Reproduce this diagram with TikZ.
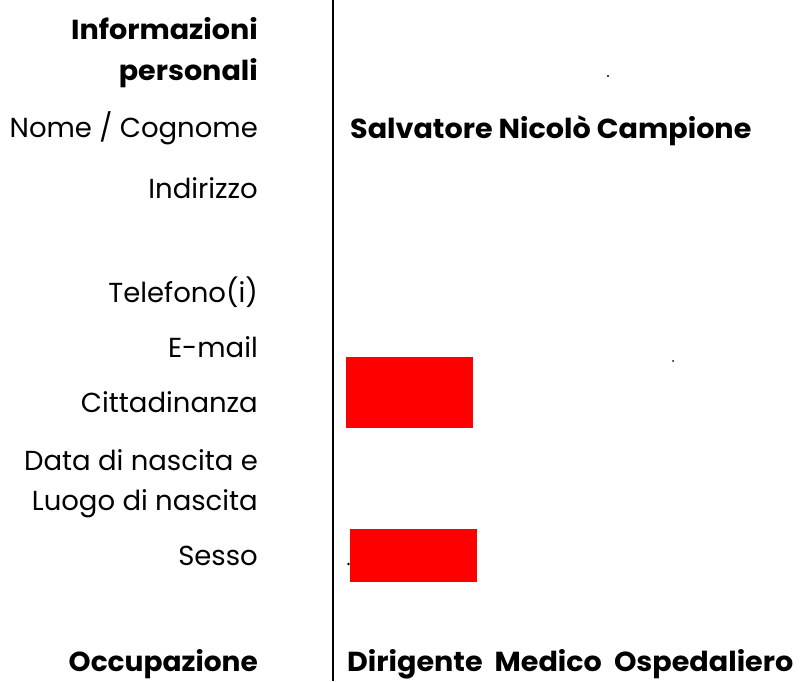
\documentclass[tikz,border=0pt]{standalone}
\usepackage{fontspec}
\setmainfont{Poppins}
\newfontfamily\boldfam[FakeStretch=1.04]{Poppins}
\begin{document}
\begin{tikzpicture}[x=1pt,y=-1pt,
  lbl/.style={anchor=base east,inner sep=0pt,font=\fontsize{27.5}{32}\selectfont},
  lblb/.style={lbl,font=\fontsize{27.5}{32}\selectfont\boldfam\bfseries},
  val/.style={anchor=base west,inner sep=0pt,font=\fontsize{27.5}{32}\selectfont\boldfam\bfseries},
  redbox/.style={fill=red,draw=none}]
\useasboundingbox[fill=white] (0,0) rectangle (800,681);
\draw[line width=1.6pt] (333,0) -- (333,681);
\node[lblb] (inf) at (258,39) {Informazioni};
\node[lblb] (pers) at (258,80) {personali};
\node[lbl] (nome) at (258,137) {Nome / Cognome};
\node[val] (nomev) at (350,138) {Salvatore Nicolò Campione};
\node[lbl] (ind) at (258,198) {Indirizzo};
\node[lbl] (tel) at (258,302) {Telefono(i)};
\node[lbl] (mail) at (258,357) {E-mail};
\node[lbl] (citt) at (258,412) {Cittadinanza};
\node[lbl] (data) at (258,470) {Data di nascita e};
\node[lbl] (luogo) at (258,510) {Luogo di nascita};
\node[lbl] (sesso) at (258,565) {Sesso};
\node[lblb,xscale=0.98] (occ) at (258,671) {Occupazione};
\node[val] (occv) at (347,671) {Dirigente\hspace{6pt} Medico\hspace{6pt} Ospedaliero};
\fill[redbox] (346,357) rectangle (473,428);
\fill[redbox] (350,529) rectangle (477,582);
\fill (608,76) circle (1.2);
\fill (673,361) circle (1);
\fill (348.5,564) circle (1.3);
\end{tikzpicture}
\end{document}
